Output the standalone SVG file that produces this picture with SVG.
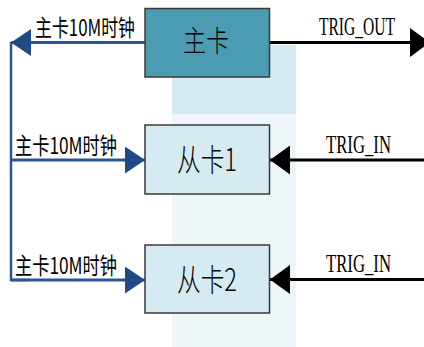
<svg xmlns="http://www.w3.org/2000/svg" width="424" height="347" viewBox="0 0 424 347">
  <style>
    .cjk { font-family: "Noto Sans CJK SC", "Liberation Serif", sans-serif; fill: #000; }
    .lat { font-family: "Liberation Serif", serif; fill: #000; font-size: 25px; }
    .box { stroke: #3a3a3a; stroke-width: 1.5; }
    .blue { stroke: #2a5592; stroke-width: 3; fill: none; }
    .blk { stroke: #000; stroke-width: 3; fill: none; }
  </style>
  <defs>
    <marker id="ab" markerUnits="userSpaceOnUse" markerWidth="20" markerHeight="27" refX="20" refY="13.5" orient="auto" viewBox="0 0 20 27">
      <path d="M0,0 L20,13.5 L0,27 Z" fill="#1f4a85"/>
    </marker>
    <marker id="ak" markerUnits="userSpaceOnUse" markerWidth="20" markerHeight="29" refX="20" refY="14.5" orient="auto" viewBox="0 0 20 29">
      <path d="M0,0 L20,14.5 L0,29 Z" fill="#000"/>
    </marker>
  </defs>
  <rect width="424" height="347" fill="#fff"/>
  <!-- shadows -->
  <rect x="172" y="45" width="124" height="69" fill="#d4eaf1"/>
  <rect x="172" y="114" width="124" height="233" fill="#eef6f9"/>

  <g id="connectors">
    <line class="blue" x1="145" y1="42.5" x2="11" y2="42.5" marker-end="url(#ab)"/>
    <polyline class="blue" points="11,42 11,280 30,280" style="stroke-width:2.5"/>
    <line class="blue" x1="11" y1="160" x2="145" y2="160" marker-end="url(#ab)"/>
    <line class="blue" x1="11" y1="280" x2="145" y2="280" marker-end="url(#ab)"/>
    <line class="blk" x1="270" y1="42.5" x2="430" y2="42.5" marker-end="url(#ak)"/>
    <line class="blk" x1="424" y1="160" x2="270" y2="160" marker-end="url(#ak)"/>
    <line class="blk" x1="424" y1="279.5" x2="270" y2="279.5" marker-end="url(#ak)"/>
    <text class="cjk" x="35" y="35.5" font-size="23" textLength="100" lengthAdjust="spacingAndGlyphs">主卡10M时钟</text>
    <text class="cjk" x="15" y="153.5" font-size="23" textLength="102" lengthAdjust="spacingAndGlyphs">主卡10M时钟</text>
    <text class="cjk" x="15" y="273.5" font-size="23" textLength="102" lengthAdjust="spacingAndGlyphs">主卡10M时钟</text>
    <text class="lat" transform="translate(319,35) scale(0.623,1)" textLength="122" lengthAdjust="spacingAndGlyphs">TRIG_OUT</text>
    <text class="lat" transform="translate(326,153) scale(0.67,1)" textLength="97" lengthAdjust="spacingAndGlyphs">TRIG_IN</text>
    <text class="lat" transform="translate(326,272) scale(0.67,1)" textLength="97" lengthAdjust="spacingAndGlyphs">TRIG_IN</text>
  </g>

  <g id="main-card">
    <rect class="box" x="145" y="8.5" width="124.5" height="68.5" fill="#4b9cb2"/>
    <text class="cjk" x="206" y="52" font-size="29" font-weight="300" text-anchor="middle" textLength="46" lengthAdjust="spacingAndGlyphs">主卡</text>
  </g>
  <g id="slave-card-1">
    <rect class="box" x="145" y="125" width="124.5" height="69" fill="#d5eaf1"/>
    <text class="cjk" x="207" y="171" font-size="31" font-weight="300" text-anchor="middle" textLength="60" lengthAdjust="spacingAndGlyphs">从卡1</text>
  </g>
  <g id="slave-card-2">
    <rect class="box" x="145" y="245" width="124.5" height="68" fill="#d5eaf1"/>
    <text class="cjk" x="207" y="291" font-size="31" font-weight="300" text-anchor="middle" textLength="60" lengthAdjust="spacingAndGlyphs">从卡2</text>
  </g>
</svg>
